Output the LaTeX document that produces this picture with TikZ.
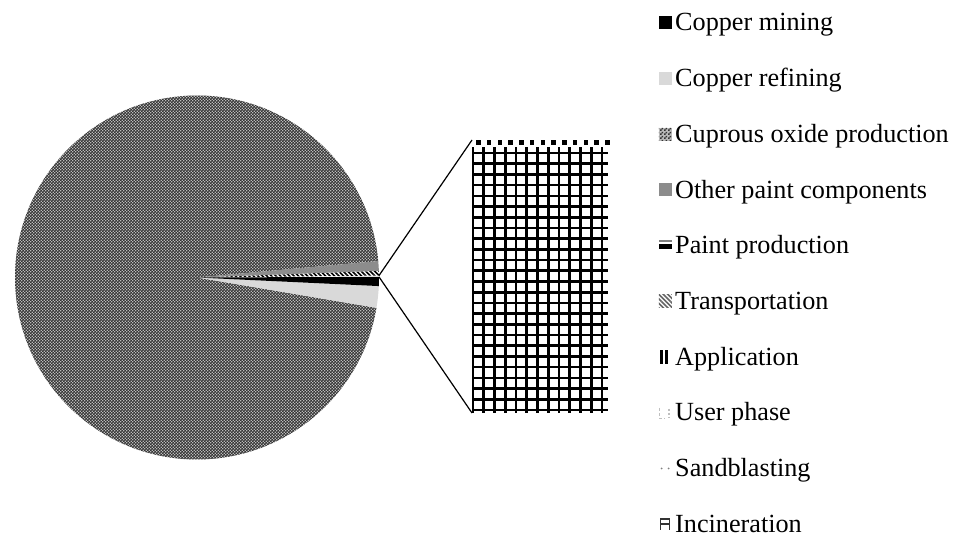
\documentclass[tikz,border=0pt]{standalone}
\usepackage{fontspec}
\setmainfont{Liberation Serif}
\usetikzlibrary{patterns}

\definecolor{refine}{gray}{0.85}
\definecolor{paintgray}{gray}{0.55}

\pgfdeclarepatternformonly{fine checker}{\pgfpointorigin}{\pgfqpoint{3.4pt}{3.4pt}}{\pgfqpoint{3.4pt}{3.4pt}}{%
  \pgfpathrectangle{\pgfpointorigin}{\pgfqpoint{1.8pt}{1.8pt}}%
  \pgfpathrectangle{\pgfqpoint{1.7pt}{1.7pt}}{\pgfqpoint{1.8pt}{1.8pt}}%
  \pgfusepath{fill}}
\pgfdeclarepatternformonly{wide stripes}{\pgfqpoint{-1pt}{-1pt}}{\pgfqpoint{5.5pt}{5.5pt}}{\pgfqpoint{4.5pt}{4.5pt}}{%
  \pgfsetlinewidth{1.5pt}%
  \pgfpathmoveto{\pgfqpoint{0pt}{4.5pt}}%
  \pgfpathlineto{\pgfqpoint{4.5pt}{0pt}}%
  \pgfusepath{stroke}}

\tikzset{
  lbl/.style={anchor=base west,inner sep=0pt,font=\fontsize{26.2}{31}\selectfont},
  key/.style={minimum size=13pt,inner sep=0pt,anchor=south east},
  checker/.style={preaction={fill=gray!55},pattern=fine checker,pattern color=black!80},
  minekey/.style={fill=black},
  refinekey/.style={fill=refine},
  oxidekey/.style={checker},
  otherkey/.style={fill=paintgray},
  transkey/.style={pattern=wide stripes,pattern color=black!60},
  plainkey/.style={},
  gridline/.style={line width=2.6pt}
}

\begin{document}
\begin{tikzpicture}[x=1pt,y=1pt]
  \fill[white] (0,0) rectangle (958,540);
  \useasboundingbox (0,0) rectangle (958,540);

  \coordinate (pie) at (197,262.5);
  \fill[checker] (pie) -- ++(5.2:182pt) arc[start angle=5.2,end angle=350.4,radius=182pt] -- cycle;
  \fill[refine] (pie) -- ++(-9.6:182pt) arc[start angle=-9.6,end angle=-2.7,radius=182pt] -- cycle;
  \fill[black] (pie) -- ++(-2.7:182pt) arc[start angle=-2.7,end angle=0.2,radius=182pt] -- cycle;
  \fill[pattern=wide stripes,pattern color=black]
    (pie) -- ++(0.6:182pt) arc[start angle=0.6,end angle=2.1,radius=182pt] -- cycle;
  \fill[paintgray] (pie) -- ++(2.1:182pt) arc[start angle=2.1,end angle=5.2,radius=182pt] -- cycle;

  \path (pie) ++(0.6:182pt) coordinate (cutA);
  \path (pie) ++(0.2:182pt) coordinate (cutB);
  \coordinate (barNW) at (472,400);
  \coordinate (barSW) at (472,127);

  \begin{scope}
    \clip (472,127) rectangle (608,393);
    \foreach \x in {0,...,12}
      \draw[gridline] (473+10.75*\x,127) -- ++(0,266);
    \foreach \y in {0,...,24}
      \draw[gridline] (472,130+10.708*\y) -- ++(136,0);
  \end{scope}
  \foreach \x in {0,...,12}
    \fill (476+10.75*\x,395) rectangle ++(4.5,4.5);

  \draw[line width=1.2pt] (cutA) -- (barNW);
  \draw[line width=1.2pt] (cutB) -- (barSW);

  \foreach \i/\k/\t in {0/minekey/Copper mining,1/refinekey/Copper refining,
      2/oxidekey/Cuprous oxide production,3/otherkey/Other paint components,
      4/plainkey/Paint production,5/transkey/Transportation,6/plainkey/Application,
      7/plainkey/User phase,8/plainkey/Sandblasting,9/plainkey/Incineration} {
    \node[lbl] (t\i) at (675,509-55.7*\i) {\t};
    \node[key,\k] (k\i) at ([xshift=-3pt,yshift=1.5pt]t\i.base west) {};
  }

  \fill ([yshift=3pt]k4.south west) rectangle ([yshift=8.5pt]k4.south east);
  \fill[gray] ([yshift=10.5pt]k4.south west) rectangle ([yshift=12pt]k4.south east);
  \fill ([xshift=1pt]k6.south west) rectangle ([xshift=4pt]k6.north west);
  \fill ([xshift=6pt]k6.south west) rectangle ([xshift=9pt]k6.north west);
  \draw[gray!50,line width=1.5pt,dash pattern=on 3pt off 2pt]
    ([xshift=1pt,yshift=-2pt]k7.north west) -- ([xshift=1pt,yshift=1pt]k7.south west) -- ([xshift=6pt,yshift=1pt]k7.south west);
  \draw[gray!50,line width=1.5pt,dash pattern=on 2pt off 2pt]
    ([xshift=-3pt,yshift=-3pt]k7.north east) -- ([xshift=-3pt,yshift=2pt]k7.south east);
  \fill[gray] ([xshift=3pt]k8.west) circle (1pt) ([xshift=10pt]k8.west) circle (1pt);
  \draw[black!80,line width=1.4pt]
    ([xshift=2pt,yshift=1pt]k9.south west) -- ([xshift=2pt,yshift=-1pt]k9.north west)
    ([xshift=11pt,yshift=1pt]k9.south west) -- ([xshift=11pt,yshift=-1pt]k9.north west)
    ([xshift=2pt,yshift=-1.5pt]k9.north west) -- ([xshift=11pt,yshift=-1.5pt]k9.north west)
    ([xshift=2pt]k9.west) -- ([xshift=11pt]k9.west);
\end{tikzpicture}
\end{document}
